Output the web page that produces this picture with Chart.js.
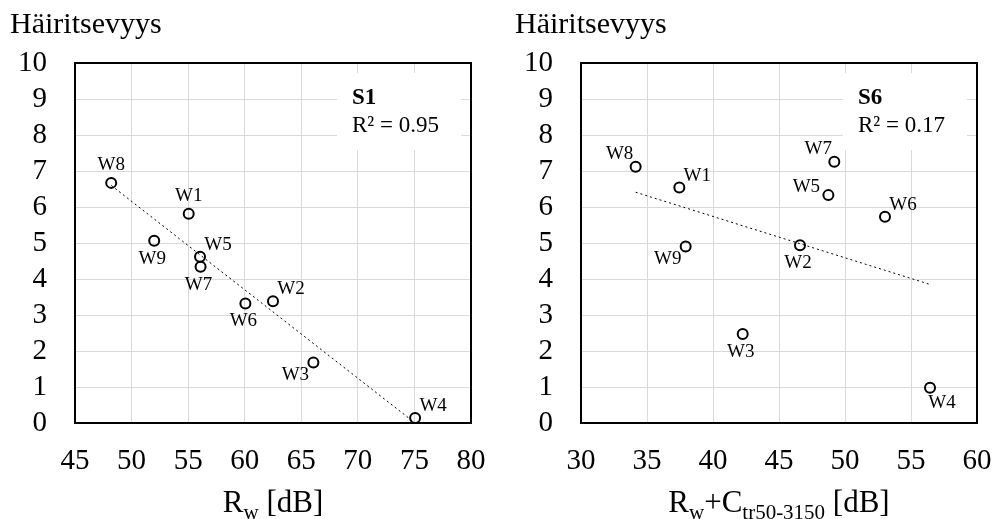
<!DOCTYPE html>
<html>
<head>
<meta charset="utf-8">
<script src="https://cdn.jsdelivr.net/npm/chart.js@4.4.0/dist/chart.umd.min.js"></script>
<style>
html,body{margin:0;padding:0;background:#fff;}
#wrap{position:relative;width:995px;height:519px;overflow:hidden;}
.box{position:absolute;top:0;height:519px;}
</style>
</head>
<body>
<div id="wrap">
  <div class="box" style="left:0;width:497px"><canvas id="c1"></canvas></div>
  <div class="box" style="left:497px;width:498px"><canvas id="c2"></canvas></div>
</div>
<script>
// wall names, same order in every array
const names = ['W1','W2','W3','W4','W5','W6','W7','W8','W9'];

// S1 : Rw
const rw       = [55.05, 62.5, 66.07, 75.06, 56.05, 60.06, 56.1, 48.2, 52.0];
const s1       = [5.81, 3.38, 1.68, 0.14, 4.62, 3.32, 4.34, 6.67, 5.06];
const s1TrendX = [48.2, 75.06];
const s1TrendY = [6.6, 0.0];

// S6 : Rw+Ctr50-3150
const rwCtr    = [37.45, 46.59, 42.25, 56.44, 48.74, 53.03, 49.19, 34.14, 37.93];
const s6       = [6.54, 4.94, 2.47, 0.98, 6.33, 5.73, 7.26, 7.12, 4.90];
const s6TrendX = [34.14, 56.44];
const s6TrendY = [6.41, 3.85];

const yTicks = [0,1,2,3,4,5,6,7,8,9,10];

// where each label sits relative to its point
const s1Place = ['n','ne','sw','ne','ne','s','s','n','s'];
const s6Place = ['ne','s','s','se','w','ne','nw','nw','sw'];
const offs = {
  n:[0,-18], s:[-2,18], ne:[18,-12], nw:[-16,-13], se:[12,15], sw:[-18,12], w:[-22,-8]
};

const FONT = 'Liberation Serif';

function pts(xs, ys) {
  return xs.map((x, i) => ({x: x, y: ys[i]}));
}

const decor = {
  id: 'decor',
  beforeDatasetsDraw(chart, args, o) {
    const ctx = chart.ctx, a = chart.chartArea;
    ctx.save();
    // box behind the R² text
    ctx.fillStyle = '#fff';
    ctx.fillRect(a.right - 134, a.top + 10, 124, 77);
    ctx.strokeStyle = '#000';
    ctx.lineWidth = 2;
    ctx.strokeRect(a.left, a.top, a.right - a.left, a.bottom - a.top);
    ctx.restore();
  },
  afterDatasetsDraw(chart, args, o) {
    const ctx = chart.ctx, a = chart.chartArea;
    ctx.save();
    ctx.fillStyle = '#000';
    ctx.textBaseline = 'middle';
    // point labels
    ctx.font = '19px "' + FONT + '"';
    ctx.textAlign = 'center';
    const meta = chart.getDatasetMeta(0);
    meta.data.forEach((p, i) => {
      const d = offs[o.place[i]];
      ctx.fillText(names[i], p.x + d[0], p.y + d[1]);
    });
    // series name + R²
    ctx.textAlign = 'left';
    ctx.font = 'bold 23px "' + FONT + '"';
    ctx.fillText(o.series, a.right - 119, a.top + 35);
    ctx.font = '23px "' + FONT + '"';
    ctx.fillText('R² = ' + o.r2, a.right - 119, a.top + 63);
    // y title
    ctx.font = '30px "' + FONT + '"';
    ctx.fillText('Häiritsevyys', o.titleX, 25);
    // x title with subscripts
    ctx.textBaseline = 'alphabetic';
    const big = '31px "' + FONT + '"', small = '21px "' + FONT + '"';
    let w = 0;
    o.xTitle.forEach(s => { ctx.font = s[1] ? small : big; w += ctx.measureText(s[0]).width; });
    let x = (a.left + a.right) / 2 - w / 2;
    o.xTitle.forEach(s => {
      ctx.font = s[1] ? small : big;
      ctx.fillText(s[0], x, s[1] ? 519 : 512);
      x += ctx.measureText(s[0]).width;
    });
    ctx.restore();
  }
};

function makeChart(id, xs, ys, tx, ty, xMin, xMax, yW, padR, opts) {
  return new Chart(document.getElementById(id), {
    type: 'scatter',
    data: {
      datasets: [{
        data: pts(xs, ys),
        pointRadius: 5,
        pointBorderWidth: 2,
        pointBorderColor: '#000',
        pointBackgroundColor: 'rgba(255,255,255,0)'
      }, {
        data: pts(tx, ty),
        showLine: true,
        borderColor: '#000',
        borderWidth: 1,
        borderDash: [2, 3],
        pointRadius: 0
      }]
    },
    options: {
      responsive: true,
      maintainAspectRatio: false,
      animation: false,
      events: [],
      layout: {padding: {top: 63, right: padR, bottom: 0, left: 0}},
      plugins: {legend: {display: false}, tooltip: {enabled: false}, decor: opts},
      scales: {
        x: {
          type: 'linear', min: xMin, max: xMax,
          afterFit: s => { s.height = 96; s.paddingLeft = 0; s.paddingRight = 0; },
          border: {display: false},
          grid: {color: '#d9d9d9', lineWidth: 1, drawTicks: false},
          ticks: {stepSize: 5, padding: 21, color: '#000', font: {family: FONT, size: 29}}
        },
        y: {
          type: 'linear', min: 0, max: 10,
          afterFit: s => { s.width = yW; s.paddingTop = 0; s.paddingBottom = 0; },
          afterBuildTicks: s => { s.ticks = yTicks.map(v => ({value: v})); },
          border: {display: false},
          grid: {color: '#d9d9d9', lineWidth: 1, drawTicks: false},
          ticks: {autoSkip: false, padding: 28, color: '#000', font: {family: FONT, size: 29}}
        }
      }
    },
    plugins: [decor]
  });
}

makeChart('c1', rw, s1, s1TrendX, s1TrendY, 45, 80, 75, 26, {
  place: s1Place, series: 'S1', r2: '0.95', titleX: 10,
  xTitle: [['R', 0], ['w', 1], [' [dB]', 0]]
});
makeChart('c2', rwCtr, s6, s6TrendX, s6TrendY, 30, 60, 84, 18, {
  place: s6Place, series: 'S6', r2: '0.17', titleX: 18,
  xTitle: [['R', 0], ['w', 1], ['+C', 0], ['tr50-3150', 1], [' [dB]', 0]]
});
</script>
</body>
</html>
